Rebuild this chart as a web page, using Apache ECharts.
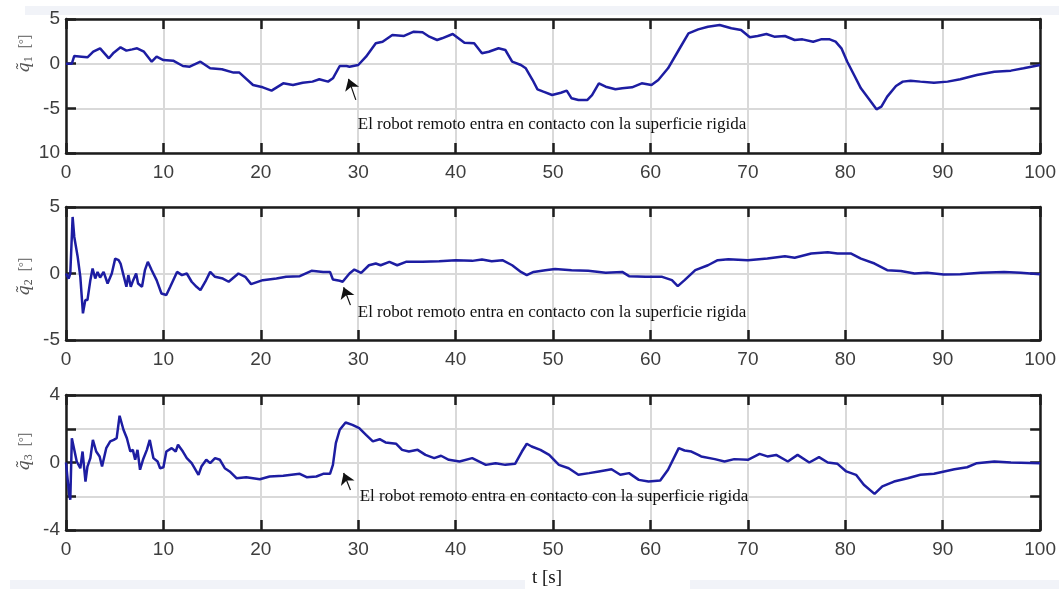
<!DOCTYPE html>
<html>
<head>
<meta charset="utf-8">
<script src="https://cdn.jsdelivr.net/npm/echarts@6/dist/echarts.min.js"></script>
<style>
  html, body { margin: 0; padding: 0; background: #ffffff; }
  #chart { width: 1059px; height: 589px; }
</style>
</head>
<body>
<div id="chart"></div>
<script>
// Joint tracking errors [deg] versus time [s]: samples as [t, error]
const q1Error = [
  [0,0],[0.6,0],[0.85,0.86],[1.6,0.78],[2.2,0.71],[2.8,1.34],[3.5,1.72],[4.4,0.6],[4.9,1.23],[5.6,1.83],
  [6.2,1.46],[6.8,1.6],[7.3,1.72],[8.0,1.34],[8.8,0.22],[9.3,0.78],[10,0.41],[11,0.34],[12,-0.26],[12.7,-0.34],
  [13.8,0.22],[14.8,-0.52],[16,-0.63],[17.2,-1.0],[17.8,-1.0],[19.2,-2.39],[20.2,-2.65],[21.1,-3.02],[22.3,-2.2],[23.3,-2.39],
  [24.3,-2.13],[25.3,-2.01],[26,-1.75],[26.9,-2.01],[27.4,-1.64],[28.1,-0.26],[28.8,-0.26],[29.1,-0.34],[30,-0.15],[30.8,0.78],
  [31.8,2.28],[32.5,2.46],[33.5,3.21],[34.7,3.1],[35.7,3.58],[36.6,3.51],[37.3,3.02],[38.1,2.65],[38.6,2.84],[39.7,3.32],
  [40.9,2.35],[41.9,2.28],[42.7,1.16],[43.4,1.34],[44.4,1.72],[45.1,1.53],[45.8,0.22],[46.7,-0.15],[47.2,-0.52],[47.9,-1.83],
  [48.4,-2.87],[49.0,-3.13],[49.9,-3.51],[50.8,-3.25],[51.4,-3.02],[51.9,-3.88],[52.6,-4.07],[53.5,-4.07],[54.0,-3.51],[54.7,-2.2],
  [55.4,-2.58],[56.4,-2.87],[57.1,-2.76],[58.1,-2.65],[59.1,-2.2],[60.1,-2.39],[60.8,-1.83],[61.8,-0.52],[62.9,1.53],[63.9,3.4],
  [64.9,3.84],[65.9,4.14],[67.1,4.33],[68.3,3.96],[69.3,3.77],[70.2,2.95],[71.0,3.1],[71.9,3.32],[72.7,3.02],[73.8,3.1],
  [74.8,2.65],[75.6,2.72],[76.7,2.46],[77.5,2.72],[78.4,2.72],[79.0,2.46],[79.6,1.72],[80.2,0.22],[80.9,-1.27],[81.6,-2.76],
  [82.5,-4.07],[83.2,-5.11],[83.7,-4.81],[84.3,-3.69],[85.2,-2.5],[85.9,-2.01],[86.7,-1.9],[87.7,-2.01],[89.1,-2.13],[90.5,-2.01],
  [91.8,-1.75],[93.5,-1.27],[95.3,-0.9],[97.0,-0.78],[98.3,-0.52],[100,-0.15]
];

const q2Error = [
  [0,0],[0.27,-0.38],[0.44,0],[0.68,4.25],[0.85,2.75],[1.2,1.25],[1.47,-0.25],[1.74,-3.0],[1.98,-2.0],[2.2,-2.0],
  [2.5,-0.5],[2.73,0.38],[3.0,-0.38],[3.24,0.12],[3.5,-0.3],[3.86,0.12],[4.27,-0.75],[4.7,0],[5.05,1.12],[5.4,1.0],
  [5.6,0.75],[5.9,-0.12],[6.2,-1.0],[6.4,-0.12],[6.65,-1.0],[6.9,-0.5],[7.2,0],[7.4,-0.75],[7.8,-1.0],[8.1,0.25],
  [8.4,0.88],[8.8,0.25],[9.3,-0.5],[9.8,-1.5],[10.3,-1.62],[10.7,-1.0],[11.4,0.12],[11.9,-0.12],[12.4,0],[12.9,-0.62],
  [13.4,-1.0],[13.8,-1.25],[14.3,-0.62],[14.8,0.12],[15.3,-0.25],[16.1,-0.38],[16.7,-0.62],[17.7,0],[18.4,-0.25],[19.0,-0.8],
  [20.2,-0.5],[21.6,-0.38],[22.6,-0.25],[24,-0.2],[25.2,0.2],[26.4,0.12],[27.1,0.12],[27.4,-0.45],[28.1,-0.55],[28.4,-0.62],
  [29.1,0],[29.6,0.3],[30.3,0.05],[31.1,0.62],[31.8,0.75],[32.3,0.62],[33.2,0.88],[34.0,0.62],[34.9,0.88],[36.6,0.88],
  [38.3,0.92],[40,1.0],[41.7,0.95],[42.7,1.05],[43.7,0.92],[44.8,1.0],[45.8,0.62],[46.7,0.12],[47.3,-0.12],[48.0,0.12],
  [49.2,0.25],[50.2,0.33],[51.9,0.25],[53.6,0.2],[55.4,0.05],[57.1,0.12],[57.8,-0.2],[59.5,-0.25],[61.2,-0.25],[62.2,-0.5],
  [62.8,-0.95],[63.5,-0.5],[64.6,0.25],[65.9,0.62],[66.9,1.0],[68,1.08],[70,1.0],[72,1.12],[73.8,1.3],[74.8,1.18],
  [76.5,1.5],[78.2,1.6],[79.2,1.5],[80.6,1.5],[81.6,1.12],[83,0.75],[84.3,0.25],[85.7,0.18],[87.1,0],[88.4,0.05],
  [90.1,-0.08],[91.8,-0.05],[93.9,0.05],[96.3,0.12],[98,0.05],[100,-0.05]
];

const q3Error = [
  [0,0],[0.17,-1.03],[0.34,-1.92],[0.44,-2.21],[0.6,1.44],[0.85,0.75],[1.1,0.06],[1.47,-0.34],[1.7,0.65],[2.0,-1.13],
  [2.2,-0.24],[2.5,0.26],[2.76,1.34],[3.1,0.65],[3.45,0.36],[3.7,-0.24],[4.13,0.85],[4.54,1.25],[4.9,1.34],[5.2,1.44],
  [5.5,2.77],[5.9,1.94],[6.25,1.44],[6.6,0.65],[6.86,0.75],[7.1,0.16],[7.34,0.75],[7.6,-0.43],[7.9,0.16],[8.3,0.75],
  [8.6,1.34],[8.97,0.26],[9.4,0.06],[9.66,-0.34],[10,-0.28],[10.3,0.65],[10.85,0.85],[11.26,0.65],[11.5,1.05],[12,0.65],
  [12.4,0.26],[12.9,-0.04],[13.6,-0.73],[13.9,-0.24],[14.4,0.16],[14.8,-0.04],[15.3,0.26],[15.8,0.16],[16.3,-0.34],[16.8,-0.53],
  [17.5,-0.93],[18.5,-0.87],[19.9,-0.99],[20.9,-0.83],[22.3,-0.79],[24,-0.67],[24.7,-0.87],[25.7,-0.83],[26.4,-0.67],[27.1,-0.67],
  [27.4,-0.14],[27.7,1.15],[28.1,1.94],[28.7,2.37],[29.4,2.23],[30.1,2.04],[30.8,1.64],[31.5,1.25],[32.2,1.38],[32.8,1.19],
  [33.9,1.11],[34.5,0.75],[35.2,0.65],[36.1,0.75],[36.9,0.45],[37.8,0.26],[38.5,0.4],[39.3,0.16],[40.4,0.06],[41.7,0.26],
  [43.1,-0.14],[44.1,-0.04],[45.1,-0.14],[46.1,-0.08],[46.8,0.65],[47.3,1.11],[47.8,0.95],[48.7,0.75],[49.6,0.45],[50.6,-0.14],
  [51.6,-0.34],[52.6,-0.73],[53.7,-0.63],[54.7,-0.53],[56.0,-0.4],[56.9,-0.73],[57.8,-0.63],[58.8,-1.03],[59.8,-1.13],[61.0,-1.07],
  [61.8,-0.43],[62.9,0.85],[63.5,0.71],[64.2,0.65],[64.9,0.45],[65.2,0.36],[66.6,0.2],[67.6,0.06],[68.6,0.2],[70,0.16],
  [71.2,0.51],[72,0.36],[72.9,0.45],[74.1,0.06],[75.1,0.45],[76.3,0],[77.3,0.32],[78.2,0],[79.2,-0.08],[80.1,-0.53],
  [81.1,-0.73],[81.9,-1.32],[83,-1.86],[83.8,-1.42],[85,-1.13],[86.4,-0.93],[87.7,-0.73],[89.1,-0.67],[91.2,-0.4],[92.5,-0.28],
  [93.5,-0.04],[95.3,0.06],[97,0],[100,-0.04]
];

// Axis ranges and tick texts
const timeTicks = { min: 0, max: 100, step: 10 };
const yRanges = [
  { min: -10, max: 5, step: 5 },
  { min: -5,  max: 5, step: 5 },
  { min: -4,  max: 4, step: 2 }
];
const yTickText = [
  { '-10': '10', '-5': '-5', '0': '0', '5': '5' },
  { '-5': '-5', '0': '0', '5': '5' },
  { '-4': '-4', '-2': '', '0': '0', '2': '', '4': '4' }
];
const yNames = ['1', '2', '3'];
const contactNote = 'El robot remoto entra en contacto con la superficie rigida';
// arrow tail, arrow tip and note anchor, in [t, error] units of each panel
const contactArrows = [
  { tail: [29.75, -4.05], tip: [29.0, -1.7], note: [29.95, -6.76] },
  { tail: [29.2, -2.38],  tip: [28.5, -1.03], note: [29.95, -2.97] },
  { tail: [29.2, -1.63],  tip: [28.5, -0.62], note: [30.15, -2.04] }
];
const errorSeries = [q1Error, q2Error, q3Error];

const grids = [
  { left: 66, width: 978, top: 19,  height: 134 },
  { left: 66, width: 978, top: 207, height: 133 },
  { left: 66, width: 978, top: 395, height: 135 }
];

const tickFont = { fontFamily: '"Liberation Sans", Arial, sans-serif', fontSize: 19, color: '#3d3d3d' };
const gridLine = { show: true, lineStyle: { color: '#d9d9d9', width: 2 } };
const inTick = { show: true, inside: true, length: 10, lineStyle: { color: '#1e1e1e', width: 2.5 } };
const boxLine = { show: true, onZero: false, lineStyle: { color: '#1c1c1c', width: 2.5 } };

const xAxes = [], yAxes = [], series = [];
grids.forEach(function (g, i) {
  xAxes.push({
    type: 'value', gridIndex: i, position: 'bottom',
    min: timeTicks.min, max: timeTicks.max, interval: timeTicks.step,
    axisLine: boxLine, axisTick: inTick,
    axisLabel: Object.assign({ margin: 10 }, tickFont),
    splitLine: gridLine
  });
  xAxes.push({
    type: 'value', gridIndex: i, position: 'top',
    min: timeTicks.min, max: timeTicks.max, interval: timeTicks.step,
    axisLine: boxLine, axisTick: inTick,
    axisLabel: { show: false }, splitLine: { show: false }
  });
  const r = yRanges[i];
  yAxes.push({
    type: 'value', gridIndex: i, position: 'left',
    min: r.min, max: r.max, interval: r.step,
    axisLine: boxLine, axisTick: inTick,
    axisLabel: Object.assign({
      margin: 6,
      formatter: function (v) { const k = String(Math.round(v)); return k in yTickText[i] ? yTickText[i][k] : k; }
    }, tickFont),
    splitLine: gridLine
  });
  yAxes.push({
    type: 'value', gridIndex: i, position: 'right',
    min: r.min, max: r.max, interval: r.step,
    axisLine: boxLine, axisTick: inTick,
    axisLabel: { show: false }, splitLine: { show: false }
  });
  const a = contactArrows[i];
  series.push({
    type: 'line', xAxisIndex: 2 * i, yAxisIndex: 2 * i,
    data: errorSeries[i], showSymbol: false, symbol: 'none', clip: true,
    lineStyle: { color: '#1d1da2', width: 2.5 },
    markLine: {
      silent: true, animation: false,
      symbol: ['none', 'arrow'], symbolSize: 11,
      label: { show: false },
      lineStyle: { color: '#111111', width: 1.2, type: 'solid' },
      data: [[{ coord: a.tail }, { coord: a.tip }]]
    }
  });
});

const chart = echarts.init(document.getElementById('chart'), null, { renderer: 'canvas' });
chart.setOption({
  animation: false,
  backgroundColor: '#ffffff',
  grid: grids.map(function (g) {
    return Object.assign({ show: true, borderWidth: 0, backgroundColor: '#ffffff' }, g);
  }),
  xAxis: xAxes,
  yAxis: yAxes,
  series: series
});

// Notes, axis titles and page bands
const extras = [
  { type: 'rect', silent: true, z: -1, shape: { x: 25, y: 6, width: 1034, height: 9 }, style: { fill: '#f1f3f8' } },
  { type: 'rect', silent: true, z: -1, shape: { x: 10, y: 580, width: 515, height: 9 }, style: { fill: '#f1f3f8' } },
  { type: 'rect', silent: true, z: -1, shape: { x: 690, y: 580, width: 369, height: 9 }, style: { fill: '#f1f3f8' } },
  {
    type: 'text', x: 547, y: 578, silent: true,
    style: { text: 't [s]', fontFamily: '"Liberation Serif", "Times New Roman", serif', fontSize: 19, fill: '#111', align: 'center', verticalAlign: 'middle' }
  }
];
const titleY = [54, 277, 452];
yNames.forEach(function (n, i) {
  const p = chart.convertToPixel({ xAxisIndex: 2 * i, yAxisIndex: 2 * i }, contactArrows[i].note);
  extras.push({
    type: 'text', x: p[0], y: p[1], silent: true,
    style: { text: contactNote, fontFamily: '"Liberation Serif", "Times New Roman", serif', fontSize: 17, fill: '#111', align: 'left', verticalAlign: 'middle' }
  });
  extras.push({
    type: 'text', x: 25, y: titleY[i], rotation: Math.PI / 2, silent: true,
    style: {
      text: '{q|q\u0303}{s|' + n + '}{g|  [\u00B0]}',
      align: 'center', verticalAlign: 'middle',
      rich: {
        q: { fontFamily: '"DejaVu Serif", "Liberation Serif", serif', fontStyle: 'italic', fontSize: 17, fill: '#555' },
        s: { fontFamily: '"Liberation Serif", serif', fontSize: 12, fill: '#555', padding: [7, 0, 0, 0] },
        g: { fontFamily: '"Liberation Sans", Arial, sans-serif', fontSize: 14, fill: '#7a7a7a' }
      }
    }
  });
});
chart.setOption({ graphic: extras });
</script>
</body>
</html>
